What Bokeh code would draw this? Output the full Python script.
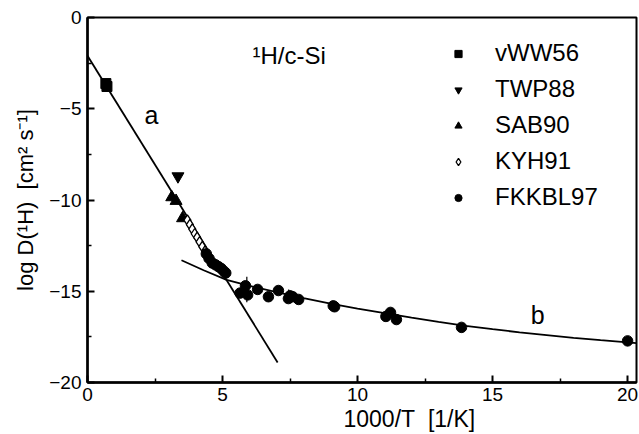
from bokeh.plotting import figure
from bokeh.models import Range1d, Label, Legend, LegendItem, FixedTicker, Title
from bokeh.embed import file_html
from bokeh.resources import INLINE

# ---- data ----
vww56_x = [0.68, 0.72]
vww56_y = [-3.62, -3.78]

twp88_x = [3.35]
twp88_y = [-8.7]

sab90_x = [3.12, 3.28, 3.52]
sab90_y = [-9.85, -10.05, -11.0]

kyh91_x = [3.70, 3.79, 3.88, 3.97, 4.06, 4.15, 4.25, 4.35, 4.45]
kyh91_y = [-11.1, -11.35, -11.6, -11.85, -12.05, -12.3, -12.55, -12.8, -13.05]

fkkbl97_x = [4.40, 4.50, 4.62, 4.74, 4.85, 4.95, 5.05, 5.12, 5.65, 5.85, 5.93, 6.3, 6.7,
             7.07, 7.44, 7.5, 7.6, 7.82, 9.1, 9.15, 11.05, 11.22, 11.44, 13.85, 20.0]
fkkbl97_y = [-12.95, -13.2, -13.45, -13.55, -13.65, -13.75, -13.9, -14.0, -15.1, -14.7, -15.2,
             -14.9, -15.3, -14.96, -15.4, -15.25, -15.3, -15.45, -15.8, -15.85, -16.38,
             -16.16, -16.55, -16.98, -17.72]

err_x = [5.9, 7.45]
err_lo = [-15.6, -15.6]
err_hi = [-14.2, -14.9]

line_a_x = [0.0, 7.04]
line_a_y = [-2.1, -18.9]

curve_b_x = [3.48, 4.3, 5.15, 6, 7, 8, 9, 10, 11, 12, 13, 14, 15, 16, 17, 18, 19, 20, 20.33]
curve_b_y = [-13.3, -13.85, -14.38, -14.7, -15.05, -15.38, -15.68, -15.95, -16.2, -16.45,
             -16.68, -16.9, -17.08, -17.25, -17.4, -17.55, -17.68, -17.8, -17.84]

x_ticks = [0, 5, 10, 15, 20]
x_minor = [2.5, 7.5, 12.5, 17.5]
y_ticks = [0, -5, -10, -15, -20]
y_minor = [-2.5, -7.5, -12.5, -17.5]

FONT = "Liberation Sans"

p = figure(width=639, height=434, output_backend="svg", toolbar_location=None,
           x_range=Range1d(0, 20.33), y_range=Range1d(-20, 0),
           min_border_left=87, min_border_top=17, min_border_right=3, min_border_bottom=52)
p.grid.visible = False
p.outline_line_color = "black"
p.outline_line_width = 2
p.background_fill_color = "white"
p.border_fill_color = "white"

for ax in (p.xaxis[0], p.yaxis[0]):
    ax.axis_line_width = 2.5
    ax.major_tick_in = 7
    ax.major_tick_out = 0
    ax.minor_tick_in = 4
    ax.minor_tick_out = 0
    ax.major_tick_line_width = 2
    ax.minor_tick_line_width = 1.5
    ax.major_label_text_font = FONT
    ax.major_label_text_font_size = "19px"
    ax.major_label_text_color = "black"
    ax.axis_label_text_font = FONT
    ax.axis_label_text_font_style = "normal"
    ax.axis_label_text_color = "black"

p.xaxis[0].ticker = FixedTicker(ticks=x_ticks, minor_ticks=x_minor)
p.yaxis[0].ticker = FixedTicker(ticks=y_ticks, minor_ticks=y_minor)
p.yaxis.axis_label = "log D(\u00b9H)\u00a0\u00a0[cm\u00b2 s\u207b\u00b9]"
p.yaxis.axis_label_text_font_size = "22px"
p.xaxis.major_label_standoff = 5
p.yaxis.major_label_standoff = 6
p.yaxis.axis_label_standoff = 8

# x axis title (placed off-centre, as in the reference)
p.add_layout(Title(text="1000/T\u00a0\u00a0[1/K]", align="left", offset=256, standoff=0,
                   text_font=FONT, text_font_size="23px", text_font_style="normal",
                   text_color="black"), "below")

# lines
p.line(line_a_x, line_a_y, line_color="black", line_width=1.8)
p.line(curve_b_x, curve_b_y, line_color="black", line_width=1.8)

# error bars
p.segment(x0=err_x, y0=err_lo, x1=err_x, y1=err_hi, line_color="black", line_width=1.2)

# data
r1 = p.scatter(vww56_x, vww56_y, marker="square", size=10, color="black")
r2 = p.scatter(twp88_x, twp88_y, marker="inverted_triangle", size=12, color="black")
r3 = p.scatter(sab90_x, sab90_y, marker="triangle", size=12, color="black")
r4 = p.scatter(kyh91_x, kyh91_y, marker="diamond", size=10.5,
               line_color="black", fill_color="white", line_width=1.3)
r5 = p.scatter(fkkbl97_x, fkkbl97_y, marker="circle", size=10.5, color="black")

legend = Legend(items=[
    LegendItem(label="vWW56", renderers=[r1]),
    LegendItem(label="TWP88", renderers=[r2]),
    LegendItem(label="SAB90", renderers=[r3]),
    LegendItem(label="KYH91", renderers=[r4]),
    LegendItem(label="FKKBL97", renderers=[r5]),
], location=(362, 171))
legend.border_line_color = None
legend.background_fill_alpha = 0
legend.padding = 0
legend.margin = 0
legend.spacing = 8
legend.glyph_width = 18
legend.glyph_height = 27
legend.label_height = 27
legend.label_standoff = 28
legend.label_text_font = FONT
legend.label_text_font_size = "24px"
legend.label_text_color = "black"
p.add_layout(legend, "center")

# annotations
p.add_layout(Label(x=6.11, y=-2.08, text="\u00b9H/c-Si", text_font=FONT,
                   text_font_size="24px", text_color="black", text_baseline="alphabetic"))
p.add_layout(Label(x=2.37, y=-5.35, text="a", text_font=FONT, text_font_size="25px",
                   text_color="black", text_align="center", text_baseline="middle"))
p.add_layout(Label(x=16.67, y=-16.3, text="b", text_font=FONT, text_font_size="25px",
                   text_color="black", text_align="center", text_baseline="middle"))

open("out.html", "w").write(file_html(p, INLINE))
